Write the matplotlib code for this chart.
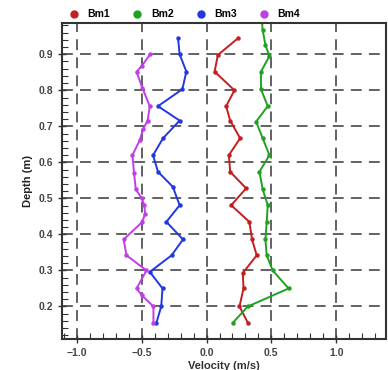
import matplotlib
matplotlib.use("Agg")
import matplotlib.pyplot as plt
from matplotlib.ticker import MultipleLocator
from matplotlib.lines import Line2D

# --- Dados (velocidade vs profundidade) ---
depth_bm1 = [0.155, 0.20, 0.25, 0.293, 0.342, 0.386, 0.435, 0.481, 0.528, 0.574,
             0.62, 0.667, 0.716, 0.756, 0.80, 0.852, 0.898, 0.944]
vel_bm1 = [0.318, 0.254, 0.285, 0.28, 0.387, 0.351, 0.33, 0.19, 0.305, 0.182,
           0.172, 0.259, 0.182, 0.151, 0.215, 0.062, 0.087, 0.241]

depth_bm2 = [0.155, 0.20, 0.25, 0.30, 0.342, 0.386, 0.435, 0.481, 0.525, 0.574,
             0.62, 0.667, 0.713, 0.756, 0.803, 0.852, 0.895, 0.926, 0.967, 1.0]
vel_bm2 = [0.203, 0.318, 0.633, 0.51, 0.464, 0.454, 0.464, 0.472, 0.433, 0.408,
           0.485, 0.433, 0.382, 0.472, 0.42, 0.42, 0.485, 0.454, 0.433, 0.425]

depth_bm3 = [0.155, 0.20, 0.25, 0.296, 0.342, 0.386, 0.435, 0.481, 0.532, 0.574,
             0.62, 0.667, 0.716, 0.756, 0.803, 0.852, 0.90, 0.944]
vel_bm3 = [-0.387, -0.35, -0.34, -0.438, -0.27, -0.182, -0.31, -0.208, -0.26, -0.375,
           -0.413, -0.336, -0.208, -0.375, -0.187, -0.156, -0.208, -0.22]

depth_bm4 = [0.155, 0.20, 0.231, 0.25, 0.30, 0.342, 0.386, 0.435, 0.458, 0.481,
             0.50, 0.525, 0.571, 0.62, 0.662, 0.692, 0.716, 0.756, 0.806, 0.851,
             0.868, 0.90]
vel_bm4 = [-0.41, -0.41, -0.50, -0.54, -0.464, -0.618, -0.64, -0.495, -0.475, -0.48,
           -0.50, -0.546, -0.56, -0.572, -0.515, -0.49, -0.455, -0.438, -0.495, -0.54,
           -0.50, -0.435]

series = [
    ("Bm1", vel_bm1, depth_bm1, "#c41e1e"),
    ("Bm2", vel_bm2, depth_bm2, "#22a022"),
    ("Bm3", vel_bm3, depth_bm3, "#2238e0"),
    ("Bm4", vel_bm4, depth_bm4, "#c03ee8"),
]

plt.rcParams['font.family'] = ['Liberation Sans', 'DejaVu Sans']

fig = plt.figure(figsize=(3.88, 3.70), dpi=100)
ax = fig.add_axes([0.160, 0.084, 0.835, 0.854])

for name, v, d, c in series:
    ax.plot(v, d, color=c, lw=1.4, marker="o", ms=2.2, label=name)

ax.set_xlim(-1.115, 1.385)
ax.set_ylim(0.11, 0.987)

ax.xaxis.set_major_locator(MultipleLocator(0.5))
ax.xaxis.set_minor_locator(MultipleLocator(0.1))
ax.yaxis.set_major_locator(MultipleLocator(0.1))
ax.yaxis.set_minor_locator(MultipleLocator(0.02))
ax.set_xticks([-1.0, -0.5, 0.0, 0.5, 1.0])
ax.set_yticks([0.2, 0.3, 0.4, 0.5, 0.6, 0.7, 0.8, 0.9])

ax.grid(True, which="major", color="#555555", ls=(0, (6, 4)), lw=1.3)
ax.tick_params(which="major", direction="inout", length=6, width=1.0,
               colors="#333333", labelsize=7.5)
ax.tick_params(which="minor", direction="in", length=4, width=0.8, colors="#333333")
for lab in ax.get_xticklabels() + ax.get_yticklabels():
    lab.set_fontweight("bold")
    lab.set_color("#444444")

for s in ax.spines.values():
    s.set_linewidth(1.5)
    s.set_color("#333333")

ax.set_xlabel("Velocity (m/s)", fontsize=8, fontweight="bold", color="#333333", labelpad=2)
ax.set_ylabel("Depth (m)", fontsize=8, fontweight="bold", color="#222222", labelpad=4)

handles = [Line2D([], [], ls="none", marker="o", ms=5, color=c) for _, _, _, c in series]
fig.legend(handles, [n for n, _, _, _ in series], loc="upper left",
           bbox_to_anchor=(0.14, 1.0), ncol=4, frameon=False, handletextpad=0.3,
           columnspacing=1.6, prop={"weight": "bold", "size": 7.5})

fig.savefig("out.png", dpi=100)
